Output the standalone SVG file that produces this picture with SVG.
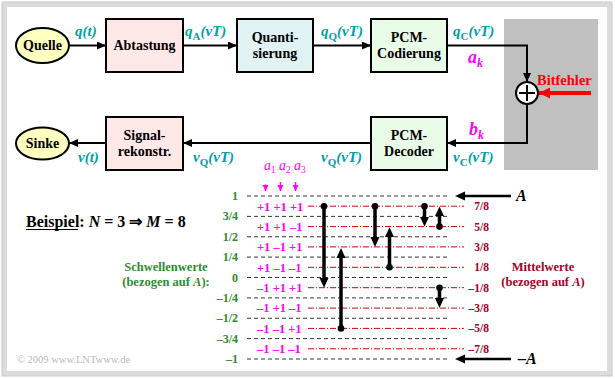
<svg xmlns="http://www.w3.org/2000/svg" width="615" height="379" viewBox="0 0 615 379">
<defs>
<marker id="ah" markerUnits="userSpaceOnUse" markerWidth="10" markerHeight="8" refX="9" refY="4" orient="auto"><path d="M0,0 L9,4 L0,8 z" fill="#000"/></marker>
<marker id="ahr" markerUnits="userSpaceOnUse" markerWidth="12" markerHeight="11" refX="11" refY="5.5" orient="auto"><path d="M0,0 L11,5.5 L0,11 z" fill="#ff0000"/></marker>
<marker id="ahm" markerUnits="userSpaceOnUse" markerWidth="7" markerHeight="7" refX="6" refY="3" orient="auto"><path d="M0,0 L6,3 L0,6 z" fill="#ff00ff"/></marker>
</defs>
<style>
.box{stroke:#000;stroke-width:2}
.bt{font-family:"Liberation Serif","Times New Roman",serif;font-weight:bold;font-size:14px;fill:#000;text-anchor:middle}
.tl{font-family:"Liberation Serif","Times New Roman",serif;font-weight:bold;font-style:italic;font-size:15px;fill:#00a0a6}
.mg{font-family:"Liberation Serif","Times New Roman",serif;font-weight:bold;font-style:italic;font-size:18px;fill:#ff00ff}
.con{fill:none;stroke:#000;stroke-width:2}
.thr{stroke:#333;stroke-width:1;stroke-dasharray:4,3}
.mean{stroke:#d00000;stroke-width:1;stroke-dasharray:6,2,1,2}
.gl{font-family:"Liberation Serif","Times New Roman",serif;font-weight:bold;font-size:12px;fill:#2e8b2e;text-anchor:end}
.rl{font-family:"Liberation Serif","Times New Roman",serif;font-weight:bold;font-size:11.5px;fill:#a50026;text-anchor:end}
.bits{font-family:"Liberation Serif","Times New Roman",serif;font-weight:bold;font-size:12.5px;fill:#ff00ff}
.err{stroke:#000;stroke-width:3.5}
</style>
<rect x="4.5" y="4.5" width="605" height="369" fill="#fff" stroke="#dcdcdc" stroke-width="5"/>
<rect x="2" y="2" width="610" height="374" fill="none" stroke="#c8c8c8" stroke-width="1"/>
<rect x="504" y="19" width="94" height="151" fill="#c0c0c0"/>

<g id="quelle"><ellipse cx="42.5" cy="45.5" rx="26.5" ry="17.5" fill="#ffffc0" class="box"/><text x="42.5" y="50" class="bt">Quelle</text></g>
<g id="abtastung"><rect x="106" y="19" width="77" height="53" fill="#ffe8e8" class="box"/><text x="144.5" y="50" class="bt">Abtastung</text></g>
<g id="quantisierung"><rect x="237" y="19" width="76" height="53" fill="#e0f2f2" class="box"/><text x="275" y="42" class="bt">Quanti-</text><text x="275" y="58" class="bt">sierung</text></g>
<g id="pcm-codierung"><rect x="371" y="19" width="76" height="53" fill="#e8fce8" class="box"/><text x="409" y="42" class="bt">PCM-</text><text x="409" y="58" class="bt">Codierung</text></g>
<g id="pcm-decoder"><rect x="371" y="117" width="76" height="53" fill="#e8fce8" class="box"/><text x="409" y="139.5" class="bt">PCM-</text><text x="409" y="156" class="bt">Decoder</text></g>
<g id="signalrekonstr"><rect x="106" y="117" width="77" height="53" fill="#ffe8e8" class="box"/><text x="144.5" y="139.5" class="bt">Signal-</text><text x="144.5" y="156" class="bt">rekonstr.</text></g>
<g id="sinke"><ellipse cx="42.5" cy="143.5" rx="26.5" ry="16" fill="#ffffc0" class="box"/><text x="42.5" y="148" class="bt">Sinke</text></g>
<g id="adder"><circle cx="527" cy="93" r="11" fill="#fff" stroke="#000" stroke-width="2"/><path d="M519,93 H535 M527,85 V101" stroke="#000" stroke-width="2"/></g>

<g id="connectors">
<path class="con" d="M69,45.5 H106" marker-end="url(#ah)"/>
<path class="con" d="M183,45.5 H237" marker-end="url(#ah)"/>
<path class="con" d="M313,45.5 H371" marker-end="url(#ah)"/>
<path class="con" d="M447,45.5 H527 V82" marker-end="url(#ah)"/>
<path d="M591,93 H539" stroke="#ff0000" stroke-width="4" fill="none" marker-end="url(#ahr)"/>
<path class="con" d="M527,104 V143 H447" marker-end="url(#ah)"/>
<path class="con" d="M371,143 H183" marker-end="url(#ah)"/>
<path class="con" d="M106,143 H69" marker-end="url(#ah)"/>
</g>

<g id="labels">
<text x="75" y="36" class="tl">q(t)</text>
<text x="185" y="36" class="tl">q<tspan font-style="normal" font-size="11" dy="4">A</tspan><tspan dy="-4">(vT)</tspan></text>
<text x="321" y="36" class="tl">q<tspan font-style="normal" font-size="11" dy="4">Q</tspan><tspan dy="-4">(vT)</tspan></text>
<text x="453" y="36" class="tl">q<tspan font-style="normal" font-size="11" dy="4">C</tspan><tspan dy="-4">(vT)</tspan></text>
<text x="468" y="63" class="mg">a<tspan font-size="12" dy="4">k</tspan></text>
<text x="537" y="85" font-family="Liberation Serif, Times New Roman, serif" font-weight="bold" font-size="14.5" fill="#ff0000">Bitfehler</text>
<text x="469" y="135" class="mg">b<tspan font-size="12" dy="4">k</tspan></text>
<text x="453" y="162" class="tl">v<tspan font-style="normal" font-size="11" dy="4">C</tspan><tspan dy="-4">(vT)</tspan></text>
<text x="321" y="162" class="tl">v<tspan font-style="normal" font-size="11" dy="4">Q</tspan><tspan dy="-4">(vT)</tspan></text>
<text x="193" y="162" class="tl">v<tspan font-style="normal" font-size="11" dy="4">Q</tspan><tspan dy="-4">(vT)</tspan></text>
<text x="78" y="162" class="tl">v(t)</text>
</g>

<g id="bit-labels" font-family="Liberation Serif, Times New Roman, serif" fill="#ff00ff">
<text x="264" y="170" font-style="italic" font-size="14">a<tspan font-style="normal" font-size="9.5" dy="3">1</tspan></text>
<text x="279" y="170" font-style="italic" font-size="14">a<tspan font-style="normal" font-size="9.5" dy="3">2</tspan></text>
<text x="294" y="170" font-style="italic" font-size="14">a<tspan font-style="normal" font-size="9.5" dy="3">3</tspan></text>
<path d="M265.5,184.5 V191" stroke="#ff00ff" stroke-width="1.5" marker-end="url(#ahm)"/>
<path d="M280.5,182 V191" stroke="#ff00ff" stroke-width="1.5" marker-end="url(#ahm)"/>
<path d="M295.5,182 V191" stroke="#ff00ff" stroke-width="1.5" marker-end="url(#ahm)"/>
</g>

<g id="levels">
<line class="thr" x1="247" y1="196" x2="448" y2="196"/>
<line class="thr" x1="247" y1="216.4" x2="448" y2="216.4"/>
<line class="thr" x1="247" y1="236.75" x2="448" y2="236.75"/>
<line class="thr" x1="247" y1="257.1" x2="448" y2="257.1"/>
<line class="thr" x1="247" y1="277.5" x2="448" y2="277.5"/>
<line class="thr" x1="247" y1="297.9" x2="448" y2="297.9"/>
<line class="thr" x1="247" y1="318.25" x2="448" y2="318.25"/>
<line class="thr" x1="247" y1="338.6" x2="448" y2="338.6"/>
<line class="thr" x1="247" y1="359" x2="448" y2="359"/>
<line class="mean" x1="308" y1="206.2" x2="464" y2="206.2"/>
<line class="mean" x1="308" y1="226.6" x2="464" y2="226.6"/>
<line class="mean" x1="308" y1="246.9" x2="464" y2="246.9"/>
<line class="mean" x1="308" y1="267.3" x2="464" y2="267.3"/>
<line class="mean" x1="308" y1="287.7" x2="464" y2="287.7"/>
<line class="mean" x1="308" y1="308.1" x2="464" y2="308.1"/>
<line class="mean" x1="308" y1="328.4" x2="464" y2="328.4"/>
<line class="mean" x1="308" y1="348.8" x2="464" y2="348.8"/>
<text class="gl" x="238" y="200">1</text>
<text class="gl" x="238" y="220.4">3/4</text>
<text class="gl" x="238" y="240.75">1/2</text>
<text class="gl" x="238" y="261.1">1/4</text>
<text class="gl" x="238" y="281.5">0</text>
<text class="gl" x="238" y="301.9">–1/4</text>
<text class="gl" x="238" y="322.25">–1/2</text>
<text class="gl" x="238" y="342.6">–3/4</text>
<text class="gl" x="238" y="363">–1</text>
<text class="rl" x="489" y="210.2">7/8</text>
<text class="rl" x="489" y="230.6">5/8</text>
<text class="rl" x="489" y="250.9">3/8</text>
<text class="rl" x="489" y="271.3">1/8</text>
<text class="rl" x="489" y="291.7">–1/8</text>
<text class="rl" x="489" y="312.1">–3/8</text>
<text class="rl" x="489" y="332.4">–5/8</text>
<text class="rl" x="489" y="352.8">–7/8</text>
<text class="bits" x="257" y="210.5">+1 +1 +1</text>
<text class="bits" x="257" y="230.9">+1 +1 –1</text>
<text class="bits" x="257" y="251.2">+1 –1 +1</text>
<text class="bits" x="257" y="271.6">+1 –1 –1</text>
<text class="bits" x="257" y="292">–1 +1 +1</text>
<text class="bits" x="257" y="312.4">–1 +1 –1</text>
<text class="bits" x="257" y="332.7">–1 –1 +1</text>
<text class="bits" x="257" y="353.1">–1 –1 –1</text>
</g>

<g id="error-arrows">
<circle cx="324" cy="206.2" r="3.3"/><line class="err" x1="324" y1="206.2" x2="324" y2="279"/><polygon points="319.5,278 328.5,278 324,287.7"/>
<circle cx="341" cy="328.4" r="3.3"/><line class="err" x1="341" y1="328.4" x2="341" y2="257"/><polygon points="336.5,258 345.5,258 341,248"/>
<circle cx="375" cy="206.2" r="3.3"/><line class="err" x1="375" y1="206.2" x2="375" y2="238"/><polygon points="370.5,237 379.5,237 375,246.9"/>
<circle cx="389.5" cy="267.3" r="3.3"/><line class="err" x1="389.5" y1="267.3" x2="389.5" y2="236"/><polygon points="385,237 394,237 389.5,227.3"/>
<circle cx="424.5" cy="206.2" r="3.3"/><line class="err" x1="424.5" y1="206.2" x2="424.5" y2="218"/><polygon points="420,217 429,217 424.5,226.6"/>
<circle cx="439.5" cy="226.6" r="3.3"/><line class="err" x1="439.5" y1="226.6" x2="439.5" y2="215"/><polygon points="435,216 444,216 439.5,206.4"/>
<circle cx="439.5" cy="287.7" r="3.3"/><line class="err" x1="439.5" y1="287.7" x2="439.5" y2="299"/><polygon points="435,298 444,298 439.5,307.9"/>
</g>

<g id="a-arrows">
<line x1="511" y1="196" x2="463" y2="196" stroke="#000" stroke-width="2.5"/><polygon points="455,196 465,191.5 465,200.5"/>
<text x="516" y="201" font-family="Liberation Serif, Times New Roman, serif" font-weight="bold" font-style="italic" font-size="16">A</text>
<line x1="511" y1="359" x2="463" y2="359" stroke="#000" stroke-width="2.5"/><polygon points="455,359 465,354.5 465,363.5"/>
<text x="518" y="364" font-family="Liberation Serif, Times New Roman, serif" font-weight="bold" font-style="italic" font-size="16">–A</text>
</g>

<g id="texts" font-family="Liberation Serif, Times New Roman, serif">
<text x="26" y="227" font-weight="bold" font-size="16">Beispiel<tspan>: </tspan><tspan font-style="italic">N</tspan> = 3 ⇒ <tspan font-style="italic">M</tspan> = 8</text>
<line x1="26" y1="229.5" x2="78" y2="229.5" stroke="#000" stroke-width="1.2"/>
<text x="166" y="271" font-weight="bold" font-size="12.5" fill="#2e8b2e" text-anchor="middle">Schwellenwerte</text>
<text x="166" y="286" font-weight="bold" font-size="12.5" fill="#2e8b2e" text-anchor="middle">(bezogen auf <tspan font-style="italic">A</tspan>):</text>
<text x="543" y="270.5" font-weight="bold" font-size="12.5" fill="#a50026" text-anchor="middle">Mittelwerte</text>
<text x="543" y="285.5" font-weight="bold" font-size="12.5" fill="#a50026" text-anchor="middle">(bezogen auf <tspan font-style="italic">A</tspan>)</text>
<text x="17" y="363" font-size="10.5" fill="#b8b8b8">© 2009 www.LNTwww.de</text>
</g>
</svg>
